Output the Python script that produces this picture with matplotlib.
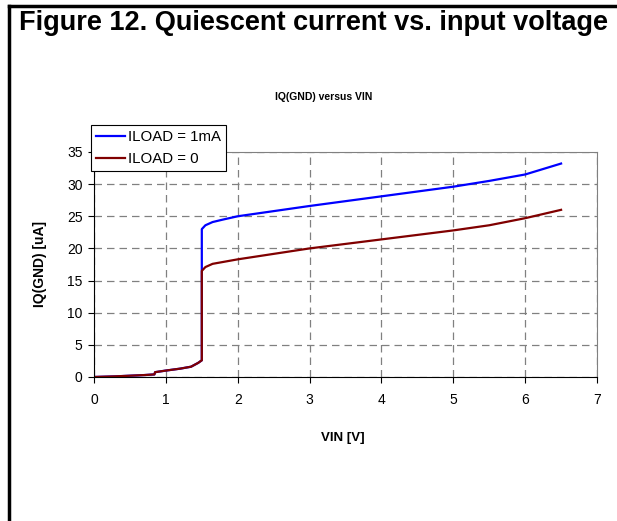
import matplotlib.pyplot as plt
from matplotlib.lines import Line2D

plt.rcParams['font.family'] = ['Liberation Sans', 'DejaVu Sans']

vin_1ma = [0, 0.3, 0.7, 0.84, 0.85, 1.0, 1.2, 1.35, 1.45, 1.5, 1.5, 1.55, 1.65, 1.8, 2.0, 3.0, 4.0, 5.0, 5.5, 6.0, 6.5]
iq_1ma = [0, 0.1, 0.3, 0.4, 0.75, 1.0, 1.3, 1.6, 2.2, 2.6, 23.0, 23.6, 24.1, 24.5, 25.0, 26.6, 28.1, 29.6, 30.5, 31.5, 33.2]

vin_0 = [0, 0.3, 0.7, 0.84, 0.85, 1.0, 1.2, 1.35, 1.45, 1.5, 1.5, 1.55, 1.65, 1.8, 2.0, 3.0, 4.0, 5.0, 5.5, 6.0, 6.5]
iq_0 = [0, 0.1, 0.3, 0.4, 0.75, 1.0, 1.3, 1.6, 2.2, 2.6, 16.5, 17.1, 17.6, 17.9, 18.3, 20.0, 21.4, 22.8, 23.6, 24.7, 26.0]

fig = plt.figure(figsize=(6.17, 5.21), dpi=100)

# black frame at top and left of the page
fig.add_artist(Line2D([0.014, 1.0], [0.989, 0.989], color='black', lw=2.5))
fig.add_artist(Line2D([0.015, 0.015], [0.0, 0.989], color='black', lw=2.5))

fig.text(0.508, 0.956, "Figure 12. Quiescent current vs. input voltage",
         ha='center', va='center', fontsize=19.5, fontweight='bold')
fig.text(0.524, 0.814, "IQ(GND) versus VIN", ha='center', va='center',
         fontsize=7.5, fontweight='bold')

ax = fig.add_axes([0.1524, 0.2764, 0.8152, 0.4319])
ax.plot(vin_1ma, iq_1ma, color='#0000ff', lw=1.6, label='ILOAD = 1mA')
ax.plot(vin_0, iq_0, color='#800000', lw=1.6, label='ILOAD = 0')

ax.set_xlim(0, 7)
ax.set_ylim(0, 35)
ax.set_xticks(range(0, 8))
ax.set_yticks(range(0, 36, 5))
ax.grid(True, color='#808080', linestyle=(0, (6, 4)), lw=0.9)
ax.tick_params(labelsize=10, length=4.3, direction='out')
ax.tick_params(axis='x', pad=7)
ax.tick_params(axis='y', pad=4)
for s in ['top', 'right']:
    ax.spines[s].set_color('#808080')
for s in ['left', 'bottom']:
    ax.spines[s].set_color('black')

fig.text(0.556, 0.159, "VIN [V]", ha='center', va='center',
         fontsize=9.5, fontweight='bold')
fig.text(0.065, 0.494, "IQ(GND) [uA]", rotation=90, ha='center', va='center',
         fontsize=10, fontweight='bold')

leg = ax.legend(loc='upper left', bbox_to_anchor=(-0.006, 1.12), fontsize=10.8,
                frameon=True, fancybox=False, edgecolor='black', framealpha=1,
                handlelength=1.95, handletextpad=0.2, borderpad=0.33, labelspacing=0.55,
                borderaxespad=0)
leg.get_frame().set_linewidth(0.8)

fig.savefig("out.png", dpi=100)
